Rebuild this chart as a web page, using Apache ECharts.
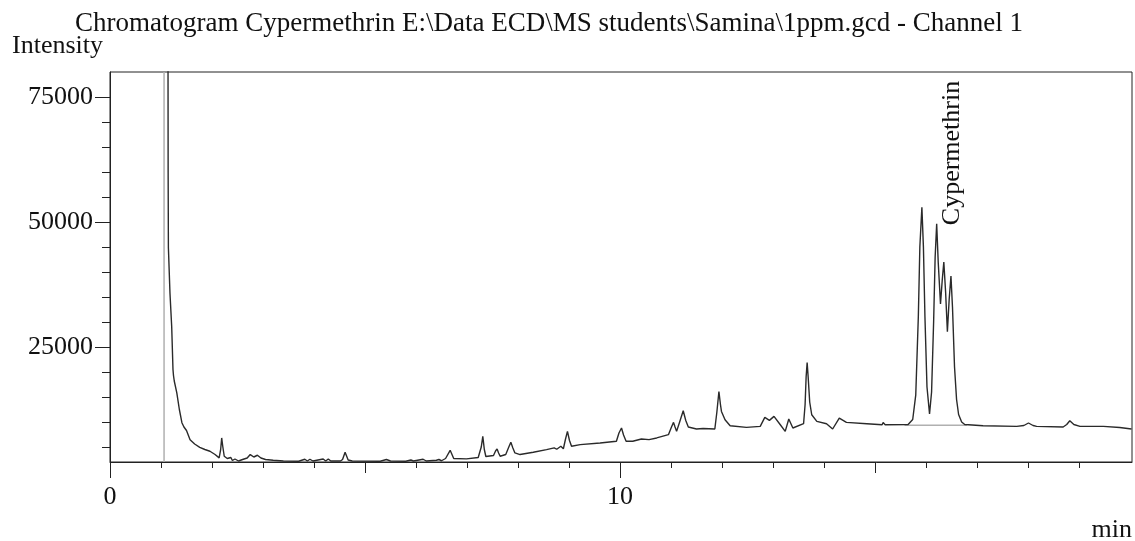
<!DOCTYPE html>
<html>
<head>
<meta charset="utf-8">
<title>Chromatogram Cypermethrin</title>
<script src="https://cdn.jsdelivr.net/npm/echarts@6/dist/echarts.min.js"></script>
<style>
    html, body { margin: 0; padding: 0; background: #fff; }
    #chart { width: 1135px; height: 541px; }
</style>
</head>
<body>
<div id="chart"></div>
<script>
    // retention time (min)
    let retention = [
        1.125, 1.14, 1.145, 1.176, 1.21, 1.235, 1.245, 1.26, 1.31, 1.36, 1.41, 1.45, 1.48, 1.50, 1.57, 1.66, 1.76, 1.86, 1.96, 2.06,
        2.14, 2.17, 2.19, 2.21, 2.24, 2.30, 2.33, 2.37, 2.40, 2.45, 2.52, 2.60, 2.69, 2.75, 2.82, 2.89, 2.96, 3.05, 3.2, 3.4,
        3.7, 3.82, 3.87, 3.92, 3.98, 4.18, 4.23, 4.28, 4.33, 4.52, 4.56, 4.61, 4.67, 4.75, 5.3, 5.42, 5.5, 5.8, 5.9, 5.95,
        6.14, 6.2, 6.4, 6.45, 6.5, 6.58, 6.67, 6.74, 6.76, 6.99, 7.22, 7.28, 7.31, 7.34, 7.37, 7.52, 7.56, 7.59, 7.62, 7.65,
        7.76, 7.82, 7.86, 7.90, 7.94, 8.04, 8.3, 8.56, 8.71, 8.76, 8.84, 8.89, 8.93, 8.97, 9.01, 9.05, 9.22, 9.61, 9.93, 9.98,
        10.03, 10.07, 10.12, 10.25, 10.42, 10.57, 10.72, 10.95, 11.01, 11.05, 11.08, 11.11, 11.17, 11.24, 11.29, 11.34, 11.5, 11.63, 11.86, 11.90,
        11.94, 11.97, 11.99, 12.06, 12.16, 12.48, 12.75, 12.84, 12.93, 13.02, 13.14, 13.24, 13.31, 13.39, 13.6, 13.63, 13.65, 13.67, 13.69, 13.72,
        13.76, 13.86, 14.05, 14.17, 14.3, 14.44, 14.84, 15.14, 15.16, 15.2, 15.65, 15.74, 15.80, 15.85, 15.88, 15.92, 15.95, 15.98, 16.02, 16.07,
        16.11, 16.15, 16.18, 16.21, 16.24, 16.285, 16.32, 16.35, 16.385, 16.42, 16.455, 16.49, 16.52, 16.56, 16.6, 16.64, 16.7, 16.76, 17.12, 17.78,
        17.92, 18.01, 18.1, 18.17, 18.69, 18.76, 18.82, 18.9, 19.02, 19.48, 19.8, 20.03
    ];
    // intensity
    let intensity = [
        200000, 60000, 44900, 35760, 29000, 20500, 19300, 18200, 15840, 12500, 9860, 9000, 9120, 8300, 6470, 5600, 4940, 4500, 4150, 3500,
        2830, 4500, 6810, 5200, 3150, 2700, 2400, 2900, 2300, 2600, 2200, 2500, 2800, 3490, 3000, 3350, 2800, 2500, 2350, 2200,
        2150, 2550, 2200, 2550, 2200, 2600, 2200, 2600, 2200, 2200, 2500, 3950, 2400, 2200, 2150, 2500, 2200, 2150, 2400, 2200,
        2550, 2200, 2350, 2500, 2250, 2700, 4340, 2700, 2500, 2630, 2900, 5000, 7130, 4500, 3100, 3300, 4200, 4620, 3800, 3150,
        3500, 5000, 5940, 4800, 3820, 3490, 3950, 4480, 4820, 4550, 5140, 4650, 6500, 8130, 6300, 5140, 5480, 5810, 6140, 7800,
        8800, 7400, 6140, 6140, 6610, 6470, 6810, 7470, 9000, 9920, 9000, 8130, 10000, 12250, 10300, 9000, 8600, 8700, 8600, 12000,
        16100, 13500, 12110, 10460, 9260, 8930, 9130, 10920, 10320, 11120, 9500, 8130, 10590, 8800, 9660, 13500, 19000, 21870, 19000, 14000,
        11450, 10120, 9660, 8600, 10790, 9920, 9660, 9460, 9900, 9460, 9500, 10500, 15440, 31000, 45000, 52950, 45000, 31000, 17000, 11600,
        16000, 30000, 43000, 49640, 42000, 33600, 38500, 42000, 36000, 28050, 34500, 39200, 33000, 21000, 14500, 11500, 10000, 9500, 9260, 9130,
        9300, 9800, 9300, 9130, 9000, 9500, 10260, 9500, 9130, 9130, 8900, 8600
    ];
    // 灰色基线（溶剂峰起点 / 氯氰菊酯基线）
    let solventLineT = [1.06, 1.06];
    let solventLineI = [2000, 80000];
    let peakBaseT = [15.58, 16.8];
    let peakBaseI = [9350, 9350];

    // 刻度
    let xMinorTicks = [1, 2, 3, 4, 6, 7, 8, 9, 11, 12, 13, 14, 16, 17, 18, 19];
    let xMidTicks = [5, 15];
    let xMajorTicks = [0, 10];
    let yMinorTicks = [5000, 10000, 15000, 20000, 30000, 35000, 40000, 45000, 55000, 60000, 65000, 70000];
    let yMajorTicks = [25000, 50000, 75000];

    let titleText = 'Chromatogram Cypermethrin E:\\Data ECD\\MS students\\Samina\\1ppm.gcd - Channel 1';
    let peakName = 'Cypermethrin';

    let trace = retention.map((t, i) => [t, intensity[i]]);
    let solventLine = solventLineT.map((t, i) => [t, solventLineI[i]]);
    let peakBase = peakBaseT.map((t, i) => [t, peakBaseI[i]]);

    let font = '"Liberation Serif", "DejaVu Serif", serif';
    let xMin = 0, xMax = 20.04, yMin = 2000, yMax = 80000;

    let myChart = echarts.init(document.getElementById('chart'), null, {renderer: 'canvas'});

    //x轴公共配置
    let xBase = {
        type: 'value',
        min: xMin,
        max: xMax,
        position: 'bottom',
        gridIndex: 0,
        splitLine: {show: false},
        axisLine: {show: false}
    };
    let yBase = {
        type: 'value',
        min: yMin,
        max: yMax,
        position: 'left',
        gridIndex: 0,
        splitLine: {show: false},
        axisLine: {show: false}
    };

    let option = {
        animation: false,
        backgroundColor: '#fff',
        grid: {
            show: true,
            left: 110,
            top: 72,
            right: 3,
            bottom: 79,
            borderColor: '#222',
            borderWidth: 1
        },
        xAxis: [
            Object.assign({}, xBase, {
                axisLine: {show: true, lineStyle: {color: '#222', width: 1}},
                axisTick: {show: true, length: 6, customValues: xMinorTicks, lineStyle: {color: '#222'}},
                axisLabel: {show: false}
            }),
            Object.assign({}, xBase, {
                axisTick: {show: true, length: 11, customValues: xMidTicks, lineStyle: {color: '#222'}},
                axisLabel: {show: false}
            }),
            Object.assign({}, xBase, {
                axisTick: {show: true, length: 16, customValues: xMajorTicks, lineStyle: {color: '#222'}},
                axisLabel: {
                    show: true,
                    customValues: xMajorTicks,
                    formatter: v => String(v),
                    margin: 22,
                    fontFamily: font,
                    fontSize: 26,
                    color: '#111'
                }
            })
        ],
        yAxis: [
            Object.assign({}, yBase, {
                axisLine: {show: true, lineStyle: {color: '#222', width: 1}},
                axisTick: {show: true, length: 8, customValues: yMinorTicks, lineStyle: {color: '#222'}},
                axisLabel: {show: false}
            }),
            Object.assign({}, yBase, {
                axisTick: {show: true, length: 15, customValues: yMajorTicks, lineStyle: {color: '#222'}},
                axisLabel: {
                    show: true,
                    customValues: yMajorTicks,
                    formatter: v => String(v),
                    margin: 17,
                    fontFamily: font,
                    fontSize: 26,
                    color: '#111'
                }
            })
        ],
        graphic: [
            {
                type: 'text',
                style: {
                    text: titleText,
                    x: 549, y: 24,
                    align: 'center',
                    verticalAlign: 'middle',
                    font: '27px ' + font,
                    fill: '#111'
                }
            },
            {
                type: 'text',
                style: {
                    text: 'Intensity',
                    x: 12, y: 46,
                    align: 'left',
                    verticalAlign: 'middle',
                    font: '26px ' + font,
                    fill: '#111'
                }
            },
            {
                type: 'text',
                style: {
                    text: 'min',
                    x: 1132, y: 530,
                    align: 'right',
                    verticalAlign: 'middle',
                    font: '26px ' + font,
                    fill: '#111'
                }
            },
            {
                type: 'text',
                x: 952, y: 153,
                rotation: Math.PI / 2,
                style: {
                    text: peakName,
                    x: 0, y: 0,
                    align: 'center',
                    verticalAlign: 'middle',
                    font: '26px ' + font,
                    fill: '#111'
                }
            }
        ],
        series: [
            {
                type: 'line',
                data: solventLine,
                symbol: 'none',
                lineStyle: {color: '#b0b0b0', width: 1.5},
                silent: true
            },
            {
                type: 'line',
                data: peakBase,
                symbol: 'none',
                lineStyle: {color: '#b0b0b0', width: 1.5},
                silent: true
            },
            {
                type: 'line',
                data: trace,
                symbol: 'none',
                clip: true,
                lineStyle: {color: '#2a2a2a', width: 1.4}
            }
        ]
    };
    myChart.setOption(option);
</script>
</body>
</html>
